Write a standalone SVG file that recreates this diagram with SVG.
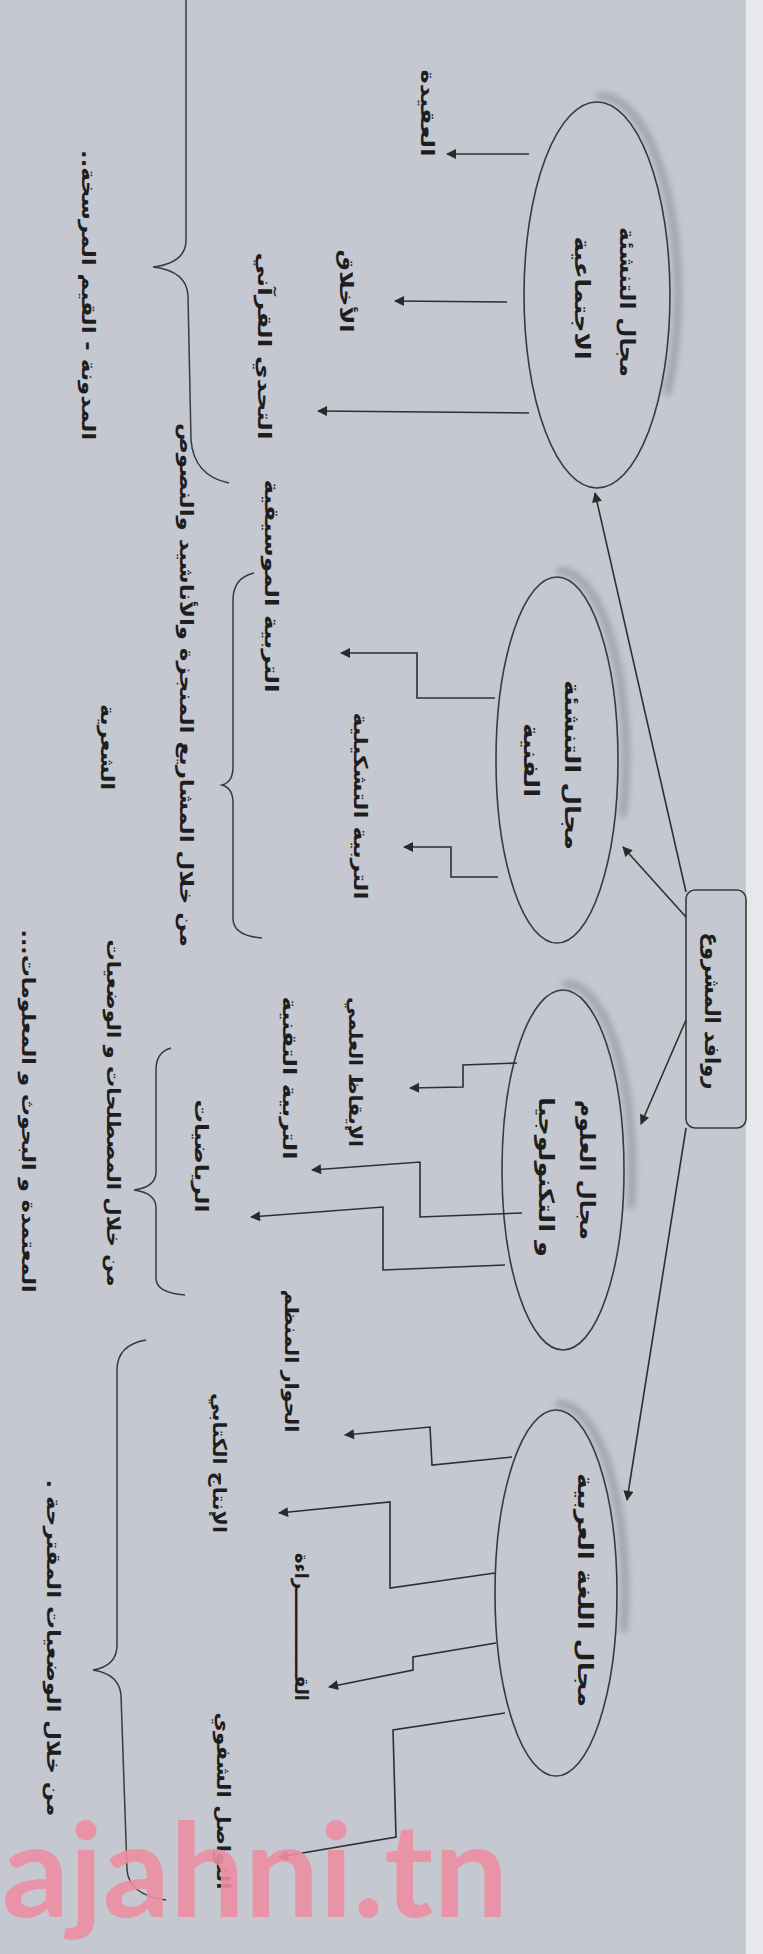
<svg xmlns="http://www.w3.org/2000/svg" width="763" height="1954" viewBox="0 0 763 1954">
<style>
.bg{fill:#c5c8d0}
.edge{fill:#e6e8eb}
.node{fill:none;stroke:#3a3a3a;stroke-width:1.6}
.shadow{fill:none;stroke:#7d8088;stroke-width:8;opacity:0.5;stroke-linecap:round}
.con{fill:none;stroke:#2f2f2f;stroke-width:1.6}
.brace{fill:none;stroke:#3a3a3a;stroke-width:1.5}
.t{font-family:"DejaVu Sans",sans-serif;font-weight:bold;fill:#1e1e1e;text-anchor:middle}
.title{font-size:21px}
.lab{font-size:19px}
.wm{font-family:Lato,"DejaVu Sans",sans-serif;font-weight:bold;font-size:130px;fill:#ec8fa2;opacity:0.9}
</style>
<defs>
<marker id="ah" viewBox="0 0 10 10" refX="9" refY="5" markerWidth="12" markerHeight="10" markerUnits="userSpaceOnUse" orient="auto"><path d="M0,0 L10,5 L0,10 z" fill="#2a2a2a"/></marker>
<filter id="blur" x="-30%" y="-30%" width="160%" height="160%"><feGaussianBlur stdDeviation="3"/></filter>
</defs>
<rect class="bg" x="0" y="0" width="763" height="1954"/>
<rect class="edge" x="746" y="0" width="17" height="1954"/>

<g id="root">
<rect class="node" x="686" y="890" width="60" height="238" rx="9"/>
<text class="t title" direction="rtl" transform="translate(705,1011) rotate(90)" textLength="157" lengthAdjust="spacingAndGlyphs">روافد المشروع</text>
</g>

<g id="e1">
<path class="shadow" d="M600 96 A78 197 0 0 1 667.5 391.5" filter="url(#blur)"/>
<ellipse class="node" cx="597" cy="295" rx="73" ry="193"/>
<text class="t title" direction="rtl" transform="translate(620,302) rotate(90)" textLength="150" lengthAdjust="spacingAndGlyphs">مجال التنشئة</text>
<text class="t title" direction="rtl" transform="translate(575,298) rotate(90)" textLength="123" lengthAdjust="spacingAndGlyphs">الاجتماعية</text>
</g>

<g id="e2">
<path class="shadow" d="M560 571 A66 187 0 0 1 623 814" filter="url(#blur)"/>
<ellipse class="node" cx="557" cy="760" rx="61" ry="183"/>
<text class="t title" direction="rtl" transform="translate(565,765) rotate(90)" textLength="170" lengthAdjust="spacingAndGlyphs">مجال التنشئة</text>
<text class="t title" direction="rtl" transform="translate(524,760) rotate(90)" textLength="74" lengthAdjust="spacingAndGlyphs">الفنية</text>
</g>

<g id="e3">
<path class="shadow" d="M566 984 A66 184 0 0 1 630.7 1204.8" filter="url(#blur)"/>
<ellipse class="node" cx="563" cy="1170" rx="61" ry="180"/>
<text class="t title" direction="rtl" transform="translate(580,1170) rotate(90)" textLength="140" lengthAdjust="spacingAndGlyphs">مجال العلوم</text>
<text class="t title" direction="rtl" transform="translate(539,1177) rotate(90)" textLength="160" lengthAdjust="spacingAndGlyphs">و التكنولوجيا</text>
</g>

<g id="e4">
<path class="shadow" d="M559 1404 A66 187 0 0 1 623.7 1628.4" filter="url(#blur)"/>
<ellipse class="node" cx="556" cy="1593" rx="61" ry="183"/>
<text class="t title" direction="rtl" transform="translate(578,1590) rotate(90)" textLength="234" lengthAdjust="spacingAndGlyphs">مجال اللغة العربية</text>
</g>

<g id="connectors">
<path class="con" d="M686 892 L595 493" marker-end="url(#ah)"/>
<path class="con" d="M686 917 L623 847" marker-end="url(#ah)"/>
<path class="con" d="M686 1020 L641 1124" marker-end="url(#ah)"/>
<path class="con" d="M686 1128 L627 1500" marker-end="url(#ah)"/>
<path class="con" d="M529 154 L447 154" marker-end="url(#ah)"/>
<path class="con" d="M507 302 L395 301" marker-end="url(#ah)"/>
<path class="con" d="M529 413 L318 411" marker-end="url(#ah)"/>
<path class="con" d="M495 698 L417 698 L417 653 L341 653" marker-end="url(#ah)"/>
<path class="con" d="M498 877 L451 877 L451 847 L404 847" marker-end="url(#ah)"/>
<path class="con" d="M517 1063 L463 1065 L463 1087 L410 1088" marker-end="url(#ah)"/>
<path class="con" d="M522 1213 L420 1217 L420 1162 L312 1170" marker-end="url(#ah)"/>
<path class="con" d="M505 1265 L383 1270 L383 1207 L251 1217" marker-end="url(#ah)"/>
<path class="con" d="M512 1457 L432 1465 L430 1427 L345 1435" marker-end="url(#ah)"/>
<path class="con" d="M495 1573 L390 1588 L390 1502 L279 1513" marker-end="url(#ah)"/>
<path class="con" d="M496 1643 L413 1657 L413 1670 L329 1687" marker-end="url(#ah)"/>
<path class="con" d="M505 1713 L393 1730 L396 1837 L279 1857" marker-end="url(#ah)"/>
</g>

<g id="braces">
<path class="brace" d="M186 -10 L186 240 Q186 263 153 267 Q187 271 188 296 L191 440 Q194 476 229 483"/>
<path class="brace" d="M254 573 Q233 578 233 600 L233 767 Q233 782 222 785 Q233 788 233 803 L233 918 Q233 936 262 938"/>
<path class="brace" d="M171 1048 Q156 1052 156 1070 L156 1172 Q156 1187 134 1190 Q156 1193 156 1208 L156 1278 Q156 1293 185 1295"/>
<path class="brace" d="M146 1340 Q117 1345 117 1370 L117 1645 Q117 1666 93 1670 Q119 1674 121 1695 L127 1870 Q129 1895 166 1900"/>
</g>

<g id="l-aqida"><text class="t lab" direction="rtl" transform="translate(421,113) rotate(90)" textLength="87" lengthAdjust="spacingAndGlyphs">العقيدة</text></g>
<g id="l-akhlaq"><text class="t lab" direction="rtl" transform="translate(340,291) rotate(90)" textLength="83" lengthAdjust="spacingAndGlyphs">الأخلاق</text></g>
<g id="l-tahadi"><text class="t lab" direction="rtl" transform="translate(258,346) rotate(90)" textLength="187" lengthAdjust="spacingAndGlyphs">التحدي القرآني</text></g>
<g id="l-mudawana"><text class="t lab" direction="rtl" transform="translate(82,295) rotate(90)" textLength="290" lengthAdjust="spacingAndGlyphs">المدونة - القيم المرسخة..</text></g>
<g id="l-mashari"><text class="t lab" direction="rtl" transform="translate(180,685) rotate(90)" textLength="524" lengthAdjust="spacingAndGlyphs">من خلال المشاريع المنجزة والأناشيد والنصوص</text></g>
<g id="l-musiqa"><text class="t lab" direction="rtl" transform="translate(265,586) rotate(90)" textLength="213" lengthAdjust="spacingAndGlyphs">التربية الموسيقية</text></g>
<g id="l-tashkil"><text class="t lab" direction="rtl" transform="translate(354,806) rotate(90)" textLength="187" lengthAdjust="spacingAndGlyphs">التربية التشكيلية</text></g>
<g id="l-shiria"><text class="t lab" direction="rtl" transform="translate(101,747) rotate(90)" textLength="86" lengthAdjust="spacingAndGlyphs">الشعرية</text></g>
<g id="l-iqadh"><text class="t lab" direction="rtl" transform="translate(349,1072) rotate(90)" textLength="150" lengthAdjust="spacingAndGlyphs">الإيقاظ العلمي</text></g>
<g id="l-taqnia"><text class="t lab" direction="rtl" transform="translate(283,1078) rotate(90)" textLength="163" lengthAdjust="spacingAndGlyphs">التربية التقنية</text></g>
<g id="l-riadiat"><text class="t lab" direction="rtl" transform="translate(195,1156) rotate(90)" textLength="113" lengthAdjust="spacingAndGlyphs">الرياضيات</text></g>
<g id="l-mustalahat"><text class="t lab" direction="rtl" transform="translate(107,1113) rotate(90)" textLength="347" lengthAdjust="spacingAndGlyphs">من خلال المصطلحات و الوضعيات</text></g>
<g id="l-mutamada"><text class="t lab" direction="rtl" transform="translate(22,1111) rotate(90)" textLength="363" lengthAdjust="spacingAndGlyphs">المعتمدة و البحوث و المعلومات...</text></g>
<g id="l-hiwar"><text class="t lab" direction="rtl" transform="translate(285,1361) rotate(90)" textLength="143" lengthAdjust="spacingAndGlyphs">الحوار المنظم</text></g>
<g id="l-intaj"><text class="t lab" direction="rtl" transform="translate(213,1463) rotate(90)" textLength="140" lengthAdjust="spacingAndGlyphs">الإنتاج الكتابي</text></g>
<g id="l-qiraa"><text class="t lab" direction="rtl" transform="translate(295,1627) rotate(90)" textLength="148" lengthAdjust="spacingAndGlyphs">القــــــــــــــراءة</text></g>
<g id="l-tawasol"><text class="t lab" direction="rtl" transform="translate(217,1801) rotate(90)" textLength="177" lengthAdjust="spacingAndGlyphs">التواصل الشفوي</text></g>
<g id="l-wadaiat"><text class="t lab" direction="rtl" transform="translate(47,1648) rotate(90)" textLength="337" lengthAdjust="spacingAndGlyphs">من خلال الوضعيات المقترحة .</text></g>

<text class="wm" x="2" y="1917" textLength="506" lengthAdjust="spacingAndGlyphs">ajahni.tn</text>
</svg>
